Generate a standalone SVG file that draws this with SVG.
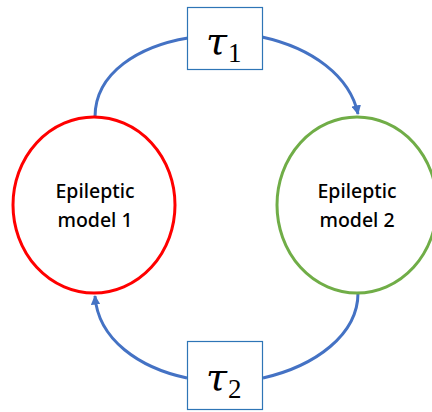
<svg xmlns="http://www.w3.org/2000/svg" width="432" height="412" viewBox="0 0 432 412">
<defs>
<style>
.conn{fill:none;stroke:#4472C4;stroke-width:3;}
.box{fill:#ffffff;stroke:#2E75B6;stroke-width:1.2;}
.lbl{font-family:"Noto Sans","Open Sans",sans-serif;font-weight:500;font-size:19.5px;fill:#000;text-anchor:middle;}
.tau{font-family:"DejaVu Serif","Liberation Serif",serif;font-style:italic;font-size:38px;fill:#000;}
.sub{font-family:"Liberation Serif","DejaVu Serif",serif;font-size:27px;fill:#000;}
</style>
<marker id="ah" viewBox="0 0 10 10" refX="9" refY="5" markerWidth="3.2" markerHeight="3.2" orient="auto" markerUnits="strokeWidth">
<path d="M0,0 L10,5 L0,10 Z" fill="#4472C4"/>
</marker>
</defs>
<rect width="432" height="412" fill="#ffffff"/>
<g id="connectors">
<path class="conn" d="M95,117 C95,72 140,46 188,38"/>
<path class="conn" d="M262,37 C312,48 350,76 358,114" marker-end="url(#ah)"/>
<path class="conn" d="M358,293 C358,335 315,366 263,378"/>
<path class="conn" d="M187,378 C140,368 98,340 95,296" marker-end="url(#ah)"/>
</g>
<g id="model1">
<ellipse cx="94" cy="205" rx="81" ry="88" fill="none" stroke="#FF0000" stroke-width="3"/>
<text class="lbl" x="95" y="198">Epileptic</text>
<text class="lbl" x="95" y="227">model 1</text>
</g>
<g id="model2">
<ellipse cx="357" cy="205" rx="80" ry="88" fill="none" stroke="#70AD47" stroke-width="3"/>
<text class="lbl" x="357" y="198">Epileptic</text>
<text class="lbl" x="357" y="227">model 2</text>
</g>
<g id="tau1">
<rect class="box" x="187.5" y="7.5" width="75" height="62"/>
<text x="206" y="54"><tspan class="tau">τ</tspan><tspan class="sub" dx="1" dy="8">1</tspan></text>
</g>
<g id="tau2">
<rect class="box" x="187.5" y="341.5" width="75" height="68"/>
<text x="206" y="390"><tspan class="tau">τ</tspan><tspan class="sub" dx="1" dy="8">2</tspan></text>
</g>
</svg>
